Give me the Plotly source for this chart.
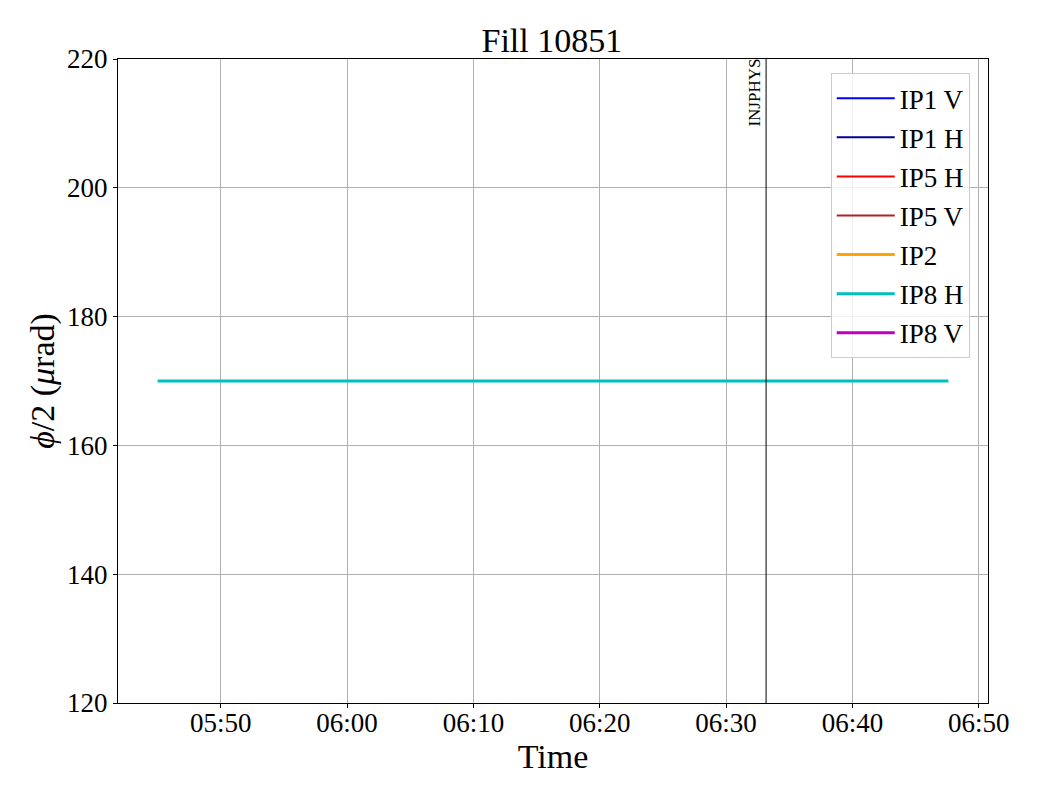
import plotly.graph_objects as go

day = "2025-07-15 "
series_names = ["IP1 V", "IP1 H", "IP5 H", "IP5 V", "IP2", "IP8 H", "IP8 V"]
series_colors = ["#0000ff", "#00008b", "#ff0000", "#b22222", "#ffa500", "#00bfbf", "#bf00bf"]
series_widths = [2, 2, 2, 2, 3, 3, 3]
series_times = [[None], [None], [None], [None], [None], [day + "05:45:00", day + "06:47:36"], [None]]
series_values = [[None], [None], [None], [None], [None], [170, 170], [None]]

event_time = day + "06:33:10"
event_label = "INJPHYS"
x_range = [day + "05:41:52", day + "06:50:44"]
y_range = [120, 220]

FONT = "Liberation Serif"

fig = go.Figure()
for i, name in enumerate(series_names):
    fig.add_trace(go.Scatter(
        x=series_times[i], y=series_values[i], mode="lines", name=name,
        line=dict(color=series_colors[i], width=series_widths[i]),
        legendgroup=name, showlegend=True,
    ))

fig.add_shape(type="line", x0=event_time, x1=event_time, y0=0, y1=1,
              xref="x", yref="paper", line=dict(color="black", width=1))
fig.add_annotation(x=event_time, y=1, xref="x", yref="paper", text=event_label,
                   textangle=-90, showarrow=False, xanchor="right", yanchor="top",
                   xshift=-1, yshift=2, font=dict(family=FONT, size=17, color="black"))

axis_common = dict(showline=True, linecolor="black", linewidth=1, mirror=True,
                   ticks="outside", ticklen=4, tickcolor="black",
                   showgrid=True, gridcolor="#b0b0b0", gridwidth=1, zeroline=False,
                   tickfont=dict(family=FONT, size=27, color="black"))

fig.update_layout(
    width=1032, height=792,
    margin=dict(l=110, r=52, t=51, b=97),
    paper_bgcolor="white", plot_bgcolor="white",
    title=dict(text="Fill 10851", x=0.527, xanchor="center", y=0.96, yanchor="middle",
               font=dict(family=FONT, size=34, color="black")),
    xaxis=dict(range=x_range, type="date", tickformat="%H:%M", dtick=600000,
               tick0=day + "05:50:00", ticklabelstandoff=-8,
               title=dict(text="Time", font=dict(family=FONT, size=34, color="black"), standoff=0),
               **axis_common),
    yaxis=dict(range=y_range, dtick=20,
               title=dict(text="<i>ϕ</i>/2 (<i>μ</i>rad)", font=dict(family=FONT, size=34, color="black"), standoff=2),
               **axis_common),
    legend=dict(x=0.979, y=0.978, xanchor="right", yanchor="top",
                bgcolor="rgba(255,255,255,0.8)", bordercolor="#cccccc", borderwidth=1,
                font=dict(family=FONT, size=27, color="black"),
                traceorder="grouped", tracegroupgap=1, itemwidth=58),
    showlegend=True,
)

fig.write_html("out.html")
